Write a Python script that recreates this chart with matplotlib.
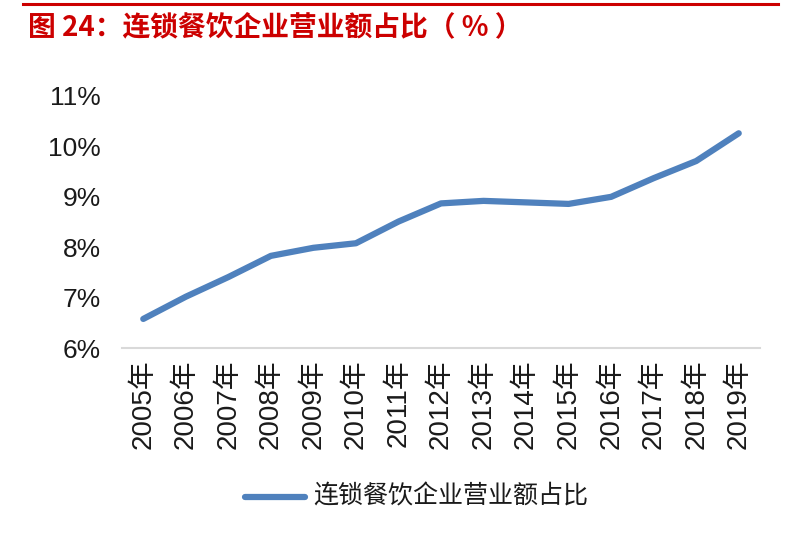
import matplotlib
matplotlib.use('Agg')
import matplotlib.pyplot as plt
from matplotlib.lines import Line2D

plt.rcParams['font.family'] = ['Liberation Sans', 'Noto Sans CJK SC', 'DejaVu Sans']

# 数据
years = ['2005年', '2006年', '2007年', '2008年', '2009年', '2010年', '2011年', '2012年',
         '2013年', '2014年', '2015年', '2016年', '2017年', '2018年', '2019年']
share = [6.58, 7.02, 7.41, 7.83, 7.99, 8.08, 8.51, 8.87,
         8.92, 8.89, 8.86, 9.00, 9.37, 9.71, 10.26]
yticks = [6, 7, 8, 9, 10, 11]
ytick_labels = ['6%', '7%', '8%', '9%', '10%', '11%']
series_name = '连锁餐饮企业营业额占比'
title = '图 24：连锁餐饮企业营业额占比（ % ）'

blue = '#4F81BD'

fig = plt.figure(figsize=(8, 5.39), dpi=100)
ax = fig.add_axes([0.1525, 0.354, 0.7975, 0.468])

x = range(len(years))
ax.plot(x, share, color=blue, linewidth=4.5, solid_capstyle='round', solid_joinstyle='round')

ax.set_xlim(-0.5, len(years) - 0.5)
ax.set_ylim(6, 11)
ax.set_yticks(yticks)
ax.set_yticklabels(ytick_labels, fontsize=19, color='#1a1a1a')
ax.set_xticks(list(x))
ax.set_xticklabels(years, rotation=90, fontsize=20, color='#1a1a1a')
ax.tick_params(axis='both', length=0)
ax.tick_params(axis='y', pad=15)
ax.tick_params(axis='x', pad=8)

for s in ['top', 'right', 'left']:
    ax.spines[s].set_visible(False)
ax.spines['bottom'].set_color('#D9D9D9')
ax.spines['bottom'].set_linewidth(1.5)

# 标题和上方红线
fig.add_artist(Line2D([23 / 800, 778 / 800], [1 - 3.5 / 539, 1 - 3.5 / 539],
                      color='#CC0000', linewidth=2.2))
fig.text(28 / 800, 1 - 27 / 539, title, fontsize=20, fontweight='bold', color='#CC0000',
         family=['Noto Sans CJK SC', 'DejaVu Sans'], va='center', ha='left')

# 图例
fig.add_artist(Line2D([245 / 800, 305 / 800], [1 - 497 / 539, 1 - 497 / 539],
                      color=blue, linewidth=4.5, solid_capstyle='round'))
fig.text(313 / 800, 1 - 497 / 539, series_name, fontsize=18, color='#1a1a1a',
         family=['Noto Sans CJK SC', 'DejaVu Sans'], va='center', ha='left')

fig.savefig('out.png', dpi=100)
